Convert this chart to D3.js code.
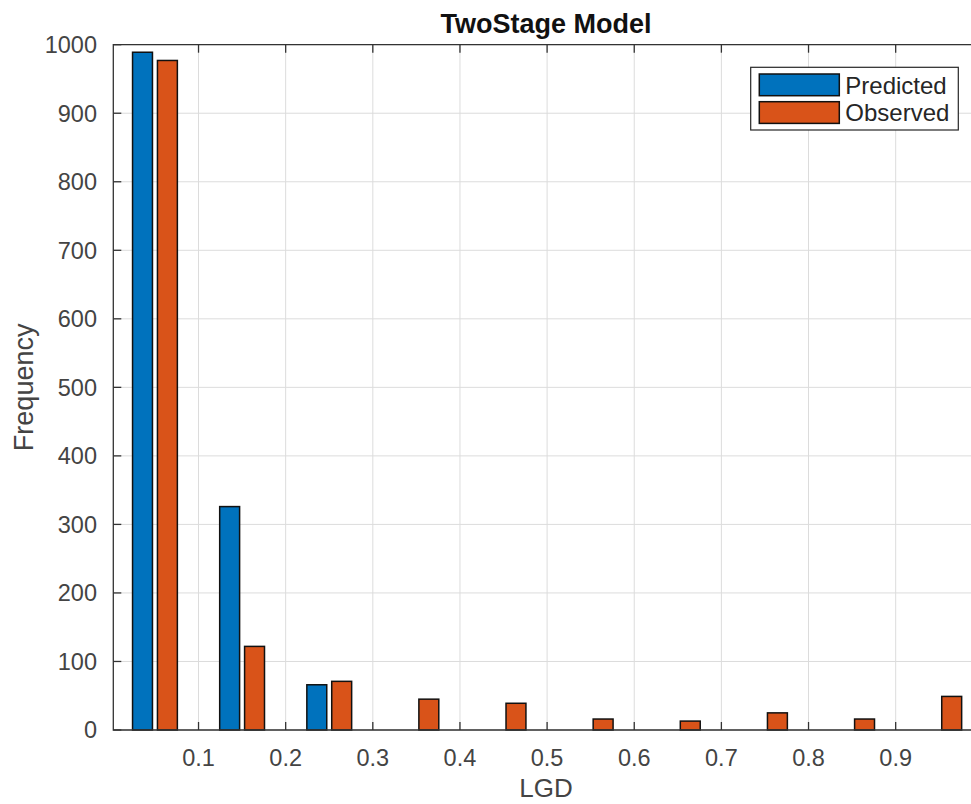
<!DOCTYPE html>
<html>
<head>
<meta charset="utf-8">
<script src="https://cdn.jsdelivr.net/npm/d3@7"></script>
<style>
  html, body { margin: 0; padding: 0; background: #fff; }
  svg { display: block; }
  text { font-family: "Liberation Sans", Arial, Helvetica, sans-serif; }
</style>
</head>
<body>
<svg id="chart" width="971" height="804"></svg>
<script>
// Histogram of LGD values: bin centres and counts per series
const binCenters = [0.05, 0.15, 0.25, 0.35, 0.45, 0.55, 0.65, 0.75, 0.85, 0.95];
const predicted  = [989, 326, 66, 0, 0, 0, 0, 0, 0, 0];
const observed   = [977, 122, 71, 45, 39, 16, 13, 25, 16, 49];
const seriesNames = ["Predicted", "Observed"];
const seriesColors = ["#0072BD", "#D95319"];
const xTickValues = [0.1, 0.2, 0.3, 0.4, 0.5, 0.6, 0.7, 0.8, 0.9];
const yTickValues = [0, 100, 200, 300, 400, 500, 600, 700, 800, 900, 1000];
const titleText = "TwoStage Model";
const xLabelText = "LGD";
const yLabelText = "Frequency";

const svg = d3.select("#chart");

// Axes box (right side runs past the edge of the figure)
const boxLeft = 113.3, boxTop = 44.7, boxBottom = 730, boxRight = 980.9;

const x = d3.scaleLinear().domain([0.0022, 0.9978]).range([boxLeft, boxRight]);
const y = d3.scaleLinear().domain([0, 1000]).range([boxBottom, boxTop]);

// Offsets of the two series inside each bin (grouped bars)
const binStep = 0.1;
const groupWidth = binStep * 0.5714;
const sub = d3.scaleBand().domain(seriesNames).range([-groupWidth / 2, groupWidth / 2]);
const barWidth = sub.bandwidth() * 0.8;

const table = binCenters.map((c, i) => ({ c, values: [predicted[i], observed[i]] }));

const gridColor = "#dcdcdc";
const axisColor = "#333333";

// Grid
const grid = svg.append("g");
grid.selectAll("line.vg").data(xTickValues).join("line")
  .attr("x1", d => x(d)).attr("x2", d => x(d))
  .attr("y1", boxTop).attr("y2", boxBottom)
  .attr("stroke", gridColor).attr("stroke-width", 1);
grid.selectAll("line.hg").data(yTickValues).join("line")
  .attr("x1", boxLeft).attr("x2", boxRight)
  .attr("y1", d => y(d)).attr("y2", d => y(d))
  .attr("stroke", gridColor).attr("stroke-width", 1);

// Bars
const groups = svg.append("g").selectAll("g").data(table).join("g");
groups.selectAll("rect")
  .data(d => d.values.map((v, k) => ({ c: d.c, v, k })))
  .join("rect")
  .attr("x", d => x(d.c + sub(seriesNames[d.k]) + (sub.bandwidth() - barWidth) / 2))
  .attr("width", d => x(d.c + barWidth) - x(d.c))
  .attr("y", d => y(d.v))
  .attr("height", d => y(0) - y(d.v))
  .attr("fill", d => seriesColors[d.k])
  .attr("stroke", "#111")
  .attr("stroke-width", 1.5);

// Axis lines (box on)
const tickLen = 8;
const ax = svg.append("g").attr("stroke", axisColor).attr("stroke-width", 1.3).attr("fill", "none");
ax.append("path").attr("d", `M${boxRight},${boxTop}H${boxLeft}V${boxBottom}H${boxRight}`);

// Inward ticks on bottom and top
ax.selectAll("line.bt").data(xTickValues).join("line")
  .attr("x1", d => x(d)).attr("x2", d => x(d))
  .attr("y1", boxBottom).attr("y2", boxBottom - tickLen);
ax.selectAll("line.tt").data(xTickValues).join("line")
  .attr("x1", d => x(d)).attr("x2", d => x(d))
  .attr("y1", boxTop).attr("y2", boxTop + tickLen);
// Inward ticks on left
ax.selectAll("line.lt").data(yTickValues).join("line")
  .attr("x1", boxLeft).attr("x2", boxLeft + tickLen)
  .attr("y1", d => y(d)).attr("y2", d => y(d));

// Tick labels
const tickFont = 23.5;
const xFmt = d3.format(".1f");
svg.append("g").selectAll("text").data(xTickValues).join("text")
  .attr("x", d => x(d)).attr("y", 766)
  .attr("text-anchor", "middle")
  .attr("font-size", tickFont).attr("fill", "#444")
  .text(d => xFmt(d));
svg.append("g").selectAll("text").data(yTickValues).join("text")
  .attr("x", 97).attr("y", d => y(d))
  .attr("dy", "0.36em")
  .attr("text-anchor", "end")
  .attr("font-size", tickFont).attr("fill", "#444")
  .text(d => d);

// Axis labels and title
svg.append("text")
  .attr("x", 546).attr("y", 797)
  .attr("text-anchor", "middle").attr("font-size", 26).attr("fill", "#444")
  .text(xLabelText);
svg.append("text")
  .attr("transform", `translate(33,${(boxTop + boxBottom) / 2}) rotate(-90)`)
  .attr("text-anchor", "middle").attr("font-size", 27).attr("fill", "#444")
  .text(yLabelText);
svg.append("text")
  .attr("x", 546).attr("y", 33)
  .attr("text-anchor", "middle").attr("font-size", 27).attr("font-weight", "bold").attr("fill", "#111")
  .text(titleText);

// Legend
const lg = svg.append("g").attr("transform", "translate(750.7,67.3)");
lg.append("rect").attr("width", 207.6).attr("height", 62.7)
  .attr("fill", "#fff").attr("stroke", "#262626").attr("stroke-width", 1.2);
const items = lg.selectAll("g").data(seriesNames).join("g")
  .attr("transform", (d, i) => `translate(8.6,${6.7 + i * 27.7})`);
items.append("rect").attr("width", 80).attr("height", 21.7)
  .attr("fill", (d, i) => seriesColors[i]).attr("stroke", "#111").attr("stroke-width", 1.5);
items.append("text").attr("x", 86).attr("y", 10.85).attr("dy", "0.36em")
  .attr("font-size", 24).attr("fill", "#262626")
  .text(d => d);
</script>
</body>
</html>
